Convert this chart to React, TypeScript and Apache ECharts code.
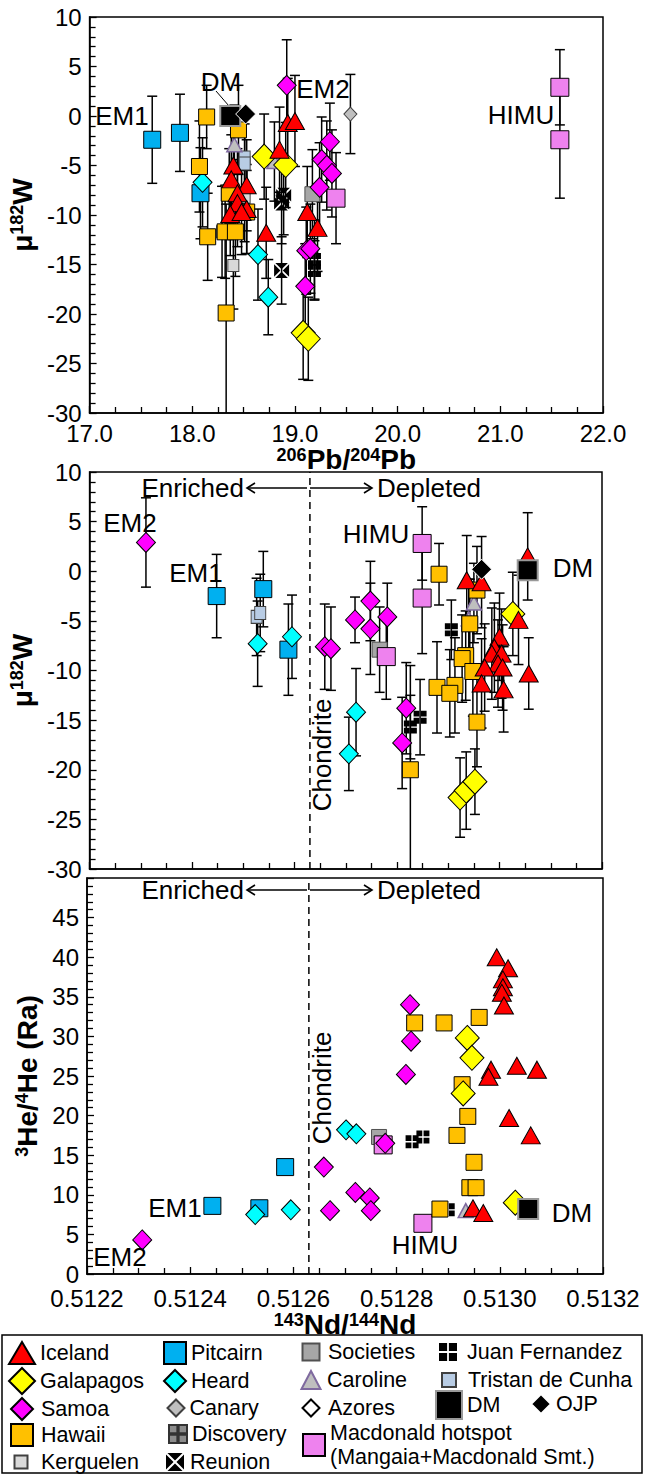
import React, { useEffect, useRef } from "react";
import * as echarts from "echarts";

const FONT = "'Liberation Sans', Arial, Helvetica, sans-serif";

// ---------------- axes ----------------
const PB_MIN = 17, PB_MAX = 22, PB_STEP = 1;
const W_MIN = -30, W_MAX = 10, W_STEP = 5;
const ND_MIN = 0.5122, ND_MAX = 0.5132, ND_STEP = 0.0002;
const HE_MIN = 0, HE_MAX = 50, HE_STEP = 5;
const CHONDRITE_ND = 0.51263;

// ---------------- panel 1: 206Pb/204Pb vs mu182W  [Pb, W, 2sd] ----------------
const pbIceland = [[18.40, -5.0, 4.4], [18.38, -6.4, 4.5], [18.53, -7.0, 4.6], [18.44, -7.8, 4.5], [18.44, -8.8, 4.4], [18.53, -9.4, 4.5], [18.37, -9.9, 4.2], [18.48, -9.7, 4.3], [18.72, -11.8, 4.6], [19.12, -9.7, 4.6], [19.22, -11.3, 4.4], [18.85, -3.4, 4.3], [18.93, -0.7, 4.5], [19.00, -0.5, 4.6]];
const pbHawaii = [[18.14, -0.1, 3.2], [18.45, -1.4, 4.5], [18.07, -5.1, 4.6], [18.36, -7.8, 4.5], [18.53, -9.7, 4.2], [18.15, -12.2, 4.4], [18.32, -11.7, 4.7], [18.42, -11.7, 4.5], [18.33, -19.9, 11]];
const pbPitcairn = [[17.61, -2.4, 4.4], [17.88, -1.7, 3.9], [18.08, -7.8, 4.6]];
const pbHeard = [[18.10, -6.7, 4.5], [18.64, -14.0, 4.6], [18.74, -18.3, 3.8]];
const pbSamoa = [[18.92, 3.1, 4.6], [19.34, -2.6, 3.9], [19.26, -4.4, 4.3], [19.31, -5.0, 4.5], [19.36, -5.8, 4.4], [19.24, -7.2, 4.5], [19.11, -13.6, 4.4], [19.15, -13.4, 4.5], [19.10, -17.2, 4.3]];
const pbGalapagos = [[18.70, -4.1, 4.3], [18.91, -4.95, 4.3], [19.08, -21.9, 4.7], [19.13, -22.5, 4.2]];
const pbCaroline = [[18.41, -2.9, 4.0], [18.80, -4.6, 4.0]];
const pbTristan = [[18.51, -4.2, 4.0], [18.51, -4.8, 4.0]];
const pbKerguelen = [[18.51, -8.2, 4.5], [18.29, -11.7, 4.6], [18.40, -15.1, 4.4]];
const pbSocieties = [[19.17, -7.9, 4.5]];
const pbMacdonald = [[19.40, -8.3, 4.6], [21.58, 2.9, 3.8], [21.58, -2.4, 5.9]];
const pbReunion = [[18.89, -8.0, 4.0], [18.87, -8.8, 4.1], [18.87, -15.6, 3.4]];
const pbJuanFernandez = [[19.19, -14.5, 4.0], [19.19, -15.6, 3.0]];
const pbCanary = [[19.54, 0.2, 4.0]];
const pbDM = [[18.37, 0.0]];
const pbOJP = [[18.52, 0.2]];

// ---------------- panel 2: 143Nd/144Nd vs mu182W  [Nd, W, 2sd] ----------------
const ndwIceland = [[0.513055, 1.5, 4.4], [0.512936, -0.9, 4.5], [0.512965, -1.1, 4.6], [0.513037, -4.9, 4.5], [0.513000, -6.6, 4.4], [0.512990, -7.7, 4.5], [0.512985, -8.3, 4.6], [0.513004, -8.3, 4.5], [0.512997, -9.3, 4.4], [0.512971, -9.7, 4.4], [0.513006, -9.7, 4.3], [0.512965, -11.3, 4.5], [0.513008, -11.9, 4.3], [0.513057, -10.3, 3.6]];
const ndwHawaii = [[0.512882, -0.3, 3.1], [0.512956, -1.9, 4.4], [0.512942, -5.3, 4.5], [0.512934, -8.5, 4.5], [0.512927, -8.8, 4.4], [0.512948, -10.1, 4.5], [0.512878, -11.7, 4.6], [0.512913, -11.5, 4.8], [0.512903, -12.3, 4.4], [0.512956, -15.2, 4.5], [0.512826, -20.0, 10.5]];
const ndwSamoa = [[0.512310, 2.9, 4.5], [0.512659, -7.6, 4.3], [0.512671, -7.8, 4.2], [0.512718, -4.9, 2.3], [0.512748, -3.0, 4.0], [0.512748, -5.8, 4.6], [0.512781, -4.6, 3.4], [0.512818, -13.8, 4.6], [0.512810, -17.3, 4.6]];
const ndwPitcairn = [[0.512448, -2.5, 4.2], [0.512539, -1.8, 3.8], [0.512588, -7.9, 4.6]];
const ndwTristan = [[0.512526, -4.6, 3.9], [0.512533, -4.2, 3.9]];
const ndwHeard = [[0.512528, -7.3, 4.3], [0.512595, -6.6, 4.2], [0.512720, -14.2, 4.4], [0.512706, -18.4, 3.7]];
const ndwSocieties = [[0.512766, -7.9, 4.3]];
const ndwMacdonald = [[0.512779, -8.6, 4.3], [0.512849, 2.8, 3.7], [0.512849, -2.7, 5.6]];
const ndwGalapagos = [[0.513026, -4.3, 4.2], [0.512923, -22.8, 4.0], [0.512935, -22.1, 3.9], [0.512952, -21.2, 3.3]];
const ndwCaroline = [[0.512950, -3.2, 4.0], [0.512940, -4.8, 4.0]];
const ndwJuanFernandez = [[0.512906, -5.9, 3.0], [0.512845, -14.7, 3.8], [0.512826, -15.7, 3.2]];
const ndwDM = [[0.513055, 0.1]];
const ndwOJP = [[0.512965, 0.2]];

// ---------------- panel 3: 143Nd/144Nd vs 3He/4He (Ra) ----------------
const ndHeIceland = [[0.512994, 40.0], [0.513016, 38.6], [0.513006, 37.2], [0.513006, 36.2], [0.513004, 35.5], [0.513008, 33.9], [0.512983, 25.8], [0.512978, 24.9], [0.513033, 26.3], [0.513072, 25.8], [0.513018, 19.7], [0.513060, 17.5], [0.512948, 8.3], [0.512968, 7.7]];
const ndHeHawaii = [[0.512835, 31.7], [0.512892, 31.7], [0.512960, 32.4], [0.512927, 23.9], [0.512938, 19.9], [0.512917, 17.5], [0.512950, 14.1], [0.512942, 10.9], [0.512954, 10.9], [0.512884, 8.2]];
const ndHeSamoa = [[0.512826, 34.0], [0.512828, 29.4], [0.512818, 25.2], [0.512659, 13.5], [0.512720, 10.3], [0.512748, 9.6], [0.512750, 8.0], [0.512671, 8.0], [0.512307, 4.3], [0.512778, 16.5]];
const ndHeGalapagos = [[0.512937, 29.8], [0.512946, 27.3], [0.512929, 22.8], [0.513030, 9.0]];
const ndHePitcairn = [[0.512443, 8.6], [0.512534, 8.3], [0.512584, 13.5]];
const ndHeHeard = [[0.512526, 7.5], [0.512595, 8.1], [0.512702, 18.2], [0.512722, 17.7]];
const ndHeSocieties = [[0.512766, 17.3]];
const ndHeMacdonald = [[0.512774, 16.3], [0.512851, 6.4]];
const ndHeJuanFernandez = [[0.512830, 16.7], [0.512851, 17.3], [0.512900, 8.1]];
const ndHeCaroline = [[0.512934, 8.0]];
const ndHeDM = [[0.513055, 8.2]];

// ---------------- symbols ----------------
const JF_PATH = "path://M0,0h9v9h-9z M11,0h9v9h-9z M0,11h9v9h-9z M11,11h9v9h-9z";
const DISC_PATH = "path://M0,0h9.3v9.3h-9.3z M10.7,0h9.3v9.3h-9.3z M0,10.7h9.3v9.3h-9.3z M10.7,10.7h9.3v9.3h-9.3z";
const REUNION_PATH = "path://M1.6,0L18.4,0L10,8.4Z M20,1.6L20,18.4L11.6,10Z M18.4,20L1.6,20L10,11.6Z M0,18.4L0,1.6L8.4,10Z";

type Sty = { symbol: string; size: number[]; color: string; border?: string; bw?: number };
const STY: Record<string, Sty> = {
  Iceland: { symbol: "triangle", size: [19, 17], color: "#FF0000" },
  Galapagos: { symbol: "diamond", size: [24, 25], color: "#FFFF00" },
  Samoa: { symbol: "diamond", size: [19, 20], color: "#FF00FF" },
  Hawaii: { symbol: "rect", size: [16, 16], color: "#FFC000" },
  Kerguelen: { symbol: "rect", size: [11, 12], color: "#D9D9D9", border: "#404040" },
  Pitcairn: { symbol: "rect", size: [17, 17], color: "#00B0F0" },
  Heard: { symbol: "diamond", size: [19, 20], color: "#00FFFF" },
  Canary: { symbol: "diamond", size: [13, 14], color: "#BFBFBF", border: "#404040" },
  Discovery: { symbol: DISC_PATH, size: [13, 13], color: "#8C8C8C", border: "#333333", bw: 1 },
  Reunion: { symbol: REUNION_PATH, size: [15, 15], color: "#000000", border: "#000000", bw: 0 },
  Societies: { symbol: "rect", size: [15, 15], color: "#A6A6A6", border: "#505050" },
  Caroline: { symbol: "triangle", size: [15, 14], color: "#BFBFBF", border: "#7F6A9F", bw: 1.5 },
  Azores: { symbol: "diamond", size: [14, 14], color: "#FFFFFF" },
  "Macdonald hotspot": { symbol: "rect", size: [18, 18], color: "#EE82EE" },
  "Juan Fernandez": { symbol: JF_PATH, size: [13, 13], color: "#000000", border: "#000000", bw: 0 },
  "Tristan de Cunha": { symbol: "rect", size: [11, 13], color: "#B8CCE4", border: "#404040" },
  DM: { symbol: "rect", size: [20, 20], color: "#000000", border: "#999999", bw: 2 },
  OJP: { symbol: "diamond", size: [20, 20], color: "#000000", border: "#FFFFFF", bw: 1 },
};

const ORDER = ["Kerguelen", "Tristan de Cunha", "Societies", "Caroline", "Canary", "Reunion", "Juan Fernandez", "Macdonald hotspot", "Pitcairn", "Heard", "Hawaii", "Samoa", "Galapagos", "Iceland", "DM", "OJP"];

const PANEL1: Record<string, number[][]> = {
  Iceland: pbIceland, Hawaii: pbHawaii, Pitcairn: pbPitcairn, Heard: pbHeard, Samoa: pbSamoa, Galapagos: pbGalapagos,
  Caroline: pbCaroline, "Tristan de Cunha": pbTristan, Kerguelen: pbKerguelen, Societies: pbSocieties,
  "Macdonald hotspot": pbMacdonald, Reunion: pbReunion, "Juan Fernandez": pbJuanFernandez, Canary: pbCanary, DM: pbDM, OJP: pbOJP,
};
const PANEL2: Record<string, number[][]> = {
  Iceland: ndwIceland, Hawaii: ndwHawaii, Samoa: ndwSamoa, Pitcairn: ndwPitcairn, "Tristan de Cunha": ndwTristan, Heard: ndwHeard,
  Societies: ndwSocieties, "Macdonald hotspot": ndwMacdonald, Galapagos: ndwGalapagos, Caroline: ndwCaroline,
  "Juan Fernandez": ndwJuanFernandez, DM: ndwDM, OJP: ndwOJP,
};
const PANEL3: Record<string, number[][]> = {
  Iceland: ndHeIceland, Hawaii: ndHeHawaii, Samoa: ndHeSamoa, Galapagos: ndHeGalapagos, Pitcairn: ndHePitcairn, Heard: ndHeHeard,
  Societies: ndHeSocieties, "Macdonald hotspot": ndHeMacdonald, "Juan Fernandez": ndHeJuanFernandez, Caroline: ndHeCaroline, DM: ndHeDM,
};

function scatter(name: string, panel: number, data: number[][]) {
  const s = STY[name];
  return {
    type: "scatter", name, xAxisIndex: panel, yAxisIndex: panel,
    data: data.map((d) => [d[0], d[1]]),
    symbol: s.symbol, symbolSize: s.size,
    itemStyle: { color: s.color, borderColor: s.border ?? "#000000", borderWidth: s.bw ?? 1, opacity: 1 },
    z: 3, silent: true, emphasis: { disabled: true },
  };
}

function errorSeries(panel: number, groups: Record<string, number[][]>) {
  const data: number[][] = [];
  ORDER.forEach((n) => (groups[n] || []).forEach((d) => { if (d.length > 2) data.push(d); }));
  return {
    type: "custom", xAxisIndex: panel, yAxisIndex: panel, data, clip: true, z: 2, silent: true,
    encode: { x: 0, y: 1 },
    renderItem: (params: any, api: any) => {
      const x = api.value(0), y = api.value(1), e = api.value(2);
      const t = api.coord([x, y + e]);
      const b = api.coord([x, y - e]);
      const st = { stroke: "#000", lineWidth: 1.5 };
      const cw = 5;
      return {
        type: "group",
        children: [
          { type: "line", shape: { x1: t[0], y1: t[1], x2: b[0], y2: b[1] }, style: st },
          { type: "line", shape: { x1: t[0] - cw, y1: t[1], x2: t[0] + cw, y2: t[1] }, style: st },
          { type: "line", shape: { x1: b[0] - cw, y1: b[1], x2: b[0] + cw, y2: b[1] }, style: st },
        ],
      };
    },
  };
}

function chondriteSeries(panel: number, yMin: number, yMax: number) {
  return {
    type: "line", xAxisIndex: panel, yAxisIndex: panel, silent: true, z: 1,
    data: [[CHONDRITE_ND, yMin], [CHONDRITE_ND, yMax]],
    symbol: "none", showSymbol: false,
    lineStyle: { color: "#000", type: [7, 5], width: 1.5 },
    emphasis: { disabled: true },
  };
}

function panelSeries(panel: number, groups: Record<string, number[][]>) {
  const out: any[] = [];
  if (panel < 2) out.push(errorSeries(panel, groups));
  ORDER.forEach((n) => {
    if (!groups[n]) return;
    out.push(scatter(n, panel, groups[n]));
  });
  return out;
}

// ---------------- axes ----------------
function axisBase() {
  return {
    axisLine: { show: true, onZero: false, lineStyle: { color: "#000", width: 1.5 } },
    axisTick: { show: true, inside: true, length: 7, lineStyle: { color: "#000", width: 1.3 } },
    minorTick: { show: true, length: 6, lineStyle: { color: "#000", width: 1.3 } },
    splitLine: { show: false },
    axisLabel: { color: "#000", fontSize: 24, fontFamily: FONT, margin: 8 },
  };
}
const titleRich = {
  b: { fontSize: 28, fontWeight: "bold", fontFamily: FONT, color: "#000", lineHeight: 28, verticalAlign: "middle" },
  s: { fontSize: 18, fontWeight: "bold", fontFamily: FONT, color: "#000", lineHeight: 18, verticalAlign: "top" },
};

// ---------------- legend ----------------
function legendItem(name: string, cx: number, cy: number, w: number, h: number, textX: number, twoLine = false) {
  const left = cx - w / 2;
  const itemH = twoLine ? 48 : Math.max(h, 22);
  const pad = Math.max(0, textX - (left + w + 5));
  return {
    show: true, data: [name], left, top: cy - itemH / 2, orient: "horizontal",
    itemWidth: w, itemHeight: h, padding: 0, itemGap: 0, selectedMode: false,
    textStyle: { fontSize: 21.5, fontFamily: FONT, color: "#000", padding: [0, 0, 0, pad], lineHeight: twoLine ? 24 : 22 },
    formatter: twoLine ? () => "Macdonald hotspot\n(Mangaia+Macdonald Smt.)" : undefined,
  };
}

function txt(text: string, x: number, y: number, extra: any = {}) {
  return {
    type: "text", x, y, silent: true, z: 20,
    style: { text, fontSize: 26, fontFamily: FONT, fill: "#000", align: "center", verticalAlign: "middle", ...extra },
  };
}

function arrows(y: number) {
  const st = { stroke: "#000", lineWidth: 1.6, fill: "none" };
  return [
    txt("Enriched", 244, y, { align: "right" }),
    { type: "line", silent: true, shape: { x1: 307, y1: y, x2: 247, y2: y }, style: st },
    { type: "polyline", silent: true, shape: { points: [[255, y - 5], [247, y], [255, y + 5]] }, style: st },
    { type: "line", silent: true, shape: { x1: 310, y1: y, x2: 372, y2: y }, style: st },
    { type: "polyline", silent: true, shape: { points: [[364, y - 5], [372, y], [364, y + 5]] }, style: st },
    txt("Depleted", 377, y, { align: "left" }),
  ];
}

function buildOption() {
  const series: any[] = [
    ...panelSeries(0, PANEL1),
    chondriteSeries(1, W_MIN, W_MAX),
    ...panelSeries(1, PANEL2),
    chondriteSeries(2, HE_MIN, HE_MAX),
    ...panelSeries(2, PANEL3),
    scatter("Discovery", 2, []),
    scatter("Azores", 2, []),
  ];
  return {
    animation: false,
    textStyle: { fontFamily: FONT },
    grid: [
      { left: 87, top: 17, width: 516, height: 396, show: true, borderColor: "#000", borderWidth: 1.5 },
      { left: 87, top: 472, width: 515, height: 397, show: true, borderColor: "#000", borderWidth: 1.5 },
      { left: 87, top: 878, width: 516, height: 396, show: true, borderColor: "#000", borderWidth: 1.5 },
    ],
    xAxis: [
      { ...axisBase(), type: "value", gridIndex: 0, min: PB_MIN, max: PB_MAX, interval: PB_STEP, minorTick: { ...axisBase().minorTick, splitNumber: 4 },
        axisLabel: { ...axisBase().axisLabel, formatter: (v: number) => v.toFixed(1) },
        name: "{s|206}{b|Pb/}{s|204}{b|Pb}", nameLocation: "middle", nameGap: 23, nameTextStyle: { rich: titleRich } },
      { ...axisBase(), type: "value", gridIndex: 1, min: ND_MIN, max: ND_MAX, interval: ND_STEP, minorTick: { ...axisBase().minorTick, splitNumber: 4 },
        axisLabel: { show: false } },
      { ...axisBase(), type: "value", gridIndex: 2, min: ND_MIN, max: ND_MAX, interval: ND_STEP, minorTick: { ...axisBase().minorTick, splitNumber: 4 },
        axisLabel: { ...axisBase().axisLabel, margin: 12, formatter: (v: number) => v.toFixed(4) },
        name: "{s|143}{b|Nd/}{s|144}{b|Nd}", nameLocation: "middle", nameGap: 32, nameTextStyle: { rich: titleRich } },
    ],
    yAxis: [
      { ...axisBase(), type: "value", gridIndex: 0, min: W_MIN, max: W_MAX, interval: W_STEP, minorTick: { ...axisBase().minorTick, splitNumber: 5 },
        name: "{b|μ}{s|182}{b|W}", nameLocation: "middle", nameGap: 44, nameRotate: 90, nameTextStyle: { rich: titleRich } },
      { ...axisBase(), type: "value", gridIndex: 1, min: W_MIN, max: W_MAX, interval: W_STEP, minorTick: { ...axisBase().minorTick, splitNumber: 5 },
        name: "{b|μ}{s|182}{b|W}", nameLocation: "middle", nameGap: 44, nameRotate: 90, nameTextStyle: { rich: titleRich } },
      { ...axisBase(), type: "value", gridIndex: 2, min: HE_MIN, max: HE_MAX, interval: HE_STEP, minorTick: { ...axisBase().minorTick, splitNumber: 5 },
        axisLabel: { ...axisBase().axisLabel, showMaxLabel: false },
        name: "{s|3}{b|He/}{s|4}{b|He (Ra)}", nameLocation: "middle", nameGap: 42, nameRotate: 90, nameTextStyle: { rich: titleRich } },
    ],
    legend: [
      legendItem("Iceland", 21, 1352, 26, 22, 39),
      legendItem("Galapagos", 21, 1380, 26, 26, 37),
      legendItem("Samoa", 21, 1408, 22, 22, 40),
      legendItem("Hawaii", 21, 1434, 22, 22, 40),
      legendItem("Kerguelen", 20, 1462, 13, 13, 40),
      legendItem("Pitcairn", 174, 1352, 22, 22, 188),
      legendItem("Heard", 174, 1380, 22, 22, 188),
      legendItem("Canary", 175, 1408, 17, 17, 188),
      legendItem("Discovery", 177, 1434, 18, 18, 188),
      legendItem("Reunion", 175, 1462, 18, 18, 190),
      legendItem("Societies", 310, 1352, 17, 17, 327),
      legendItem("Caroline", 310, 1380, 19, 18, 326),
      legendItem("Azores", 310, 1408, 17, 17, 327),
      legendItem("Macdonald hotspot", 313, 1445, 22, 22, 329, true),
      legendItem("Juan Fernandez", 448, 1352, 18, 18, 467),
      legendItem("Tristan de Cunha", 448, 1380, 14, 14, 467),
      legendItem("DM", 448, 1404, 26, 28, 465),
      legendItem("OJP", 540, 1404, 20, 20, 554),
    ],
    graphic: [
      // panel 1 annotations
      txt("EM1", 122, 116), txt("DM", 221, 82), txt("EM2", 323, 89), txt("HIMU", 521, 115),
      { type: "line", silent: true, shape: { x1: 216, y1: 91, x2: 229, y2: 106 }, style: { stroke: "#000", lineWidth: 1 } },
      // panel 2 annotations
      ...arrows(488),
      txt("EM2", 130, 523), txt("EM1", 196, 573), txt("HIMU", 376, 534), txt("DM", 573, 568),
      { ...txt("Chondrite", 322, 755), rotation: Math.PI / 2 },
      // panel 3 annotations
      ...arrows(890),
      txt("EM1", 175, 1208), txt("EM2", 120, 1257), txt("HIMU", 425, 1245), txt("DM", 572, 1213),
      { ...txt("Chondrite", 322, 1088), rotation: Math.PI / 2 },
      // legend frame
      { type: "rect", silent: true, shape: { x: 2, y: 1335, width: 640, height: 138 }, style: { fill: "none", stroke: "#000", lineWidth: 1.5 } },
    ],
    series,
  };
}

export default function App() {
  const ref = useRef<HTMLDivElement>(null);
  useEffect(() => {
    if (!ref.current) return;
    const chart = echarts.init(ref.current, null, { renderer: "svg" });
    chart.setOption(buildOption() as any);
    return () => chart.dispose();
  }, []);
  return <div ref={ref} style={{ position: "absolute", left: 0, top: 0, width: 645, height: 1475, background: "#fff" }} />;
}
